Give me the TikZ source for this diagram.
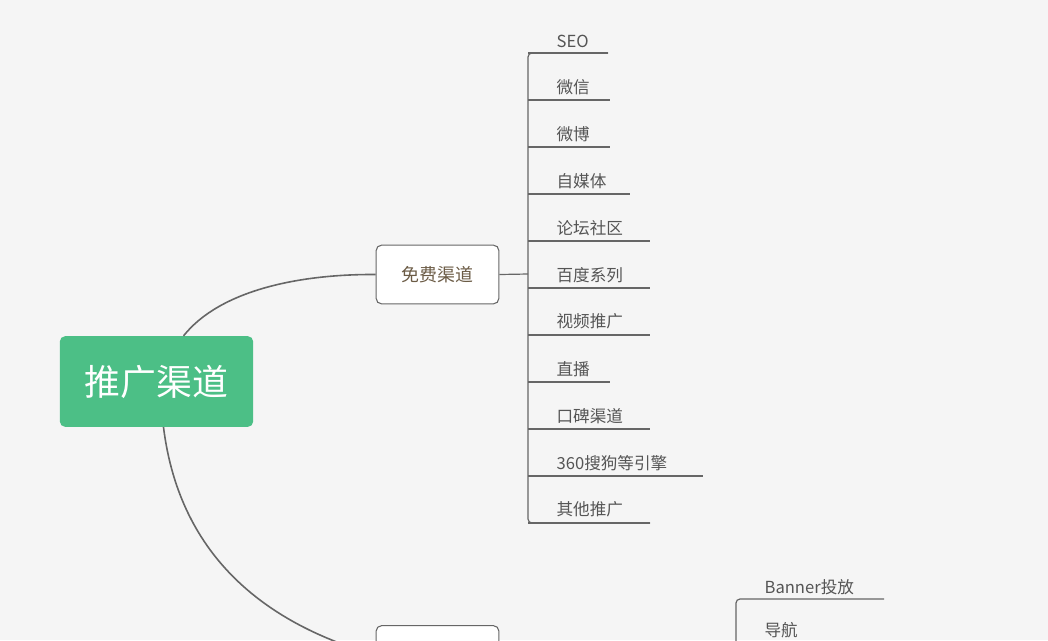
\documentclass[tikz,border=0pt]{standalone}
\usepackage{fontspec}
\setmainfont{Noto Sans CJK SC}
\definecolor{bgc}{HTML}{F5F5F5}
\definecolor{rootc}{HTML}{4CBF86}
\definecolor{linec}{HTML}{666666}
\definecolor{txtc}{HTML}{555555}
\definecolor{subc}{HTML}{6B5B45}
\tikzset{
  rootbox/.style={fill=rootc, text=white, rounded corners=4pt, minimum width=145bp, minimum height=68bp, font=\fontsize{27}{30}\selectfont},
  subbox/.style={draw=linec, fill=white, line width=0.8pt, rounded corners=4pt, minimum width=92bp, minimum height=44bp, text=subc, font=\fontsize{13.5}{15}\selectfont},
  leaf/.style={anchor=south west, inner sep=1pt, text=txtc, font=\fontsize{12.5}{14}\selectfont},
  conn/.style={draw=linec, line width=1.2pt},
  tree/.style={draw=linec, line width=0.9pt, rounded corners=3pt}
}
\begin{document}
\begin{tikzpicture}[x=0.75bp, y=-0.75bp]
\fill[bgc] (0,0) rectangle (1048,640);
\useasboundingbox (0,0) rectangle (1048,640);
\clip (0,0) rectangle (1048,640);

% main nodes
\node[rootbox] (root) at (156.5,381.5) {推广渠道};
\node[subbox] (free) at (437.5,274.5) {免费渠道};
\node[subbox] (paid) at (437.5,655) {};

\draw[conn] (root.north) ++(27,0) coordinate (r1) .. controls (220,290) and (300,274) .. (free.west);
\draw[conn] (root.south) ++(7,0) coordinate (r2) .. controls (180,560) and (270,625) .. (paid.west);

% free branches
\coordinate (fork) at (528,274);
\draw[tree, rounded corners=0pt] (free.east) -- (fork);
\foreach \y/\t/\e [count=\i] in {53/SEO/608, 100/微信/610, 147/微博/610, 194/自媒体/630,
  241/论坛社区/650, 288/百度系列/650, 335/视频推广/650, 382/直播/610,
  429/口碑渠道/650, 476/360搜狗等引擎/703, 523/其他推广/650}{
  \node[leaf] (f\i) at (555,\y-4) {\t};
  \coordinate (e\i) at (\e,\y);
  \draw[tree, rounded corners=0pt] (528,\y) -- (e\i);
}
\draw[tree] (e1) -- (528,53) -- (528,523) -- (e11);

% paid branches
\node[leaf] (p1) at (763,596) {Banner投放};
\coordinate (pe1) at (884,599);
\draw[tree] (pe1) -- (736,599) -- (736,660);
\node[leaf] (p2) at (763,640) {导航};
\end{tikzpicture}
\end{document}
